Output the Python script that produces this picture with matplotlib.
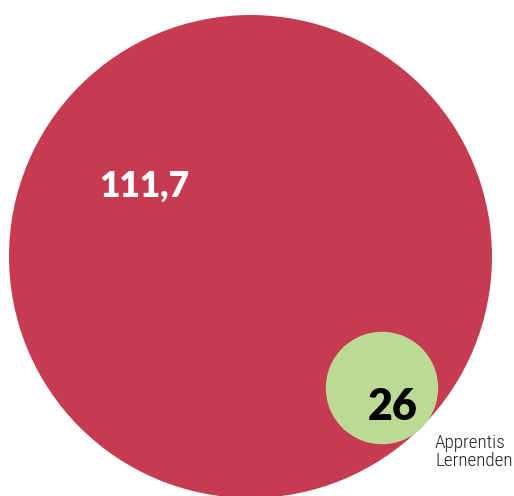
import matplotlib.pyplot as plt
from matplotlib.patches import Circle

# values shown in the bubbles
labels = ["111,7", "26"]
values = [111.7, 26]
colors = ["#C63B50", "#BBDA93"]
text_colors = ["white", "black"]
caption = "Apprentis\nLernenden"

# layout in pixel coordinates
centers = [(250.5, 256.5), (382, 388)]
label_pos = [(144, 186), (393, 407)]
label_size = [25.5, 31]
px_per_unit = 2.162

fig = plt.figure(figsize=(5.14, 4.96), dpi=100)
ax = fig.add_axes([0, 0, 1, 1])
ax.set_xlim(0, 514)
ax.set_ylim(496, 0)
ax.set_aspect("equal")
ax.axis("off")

for i in range(len(values)):
    ax.add_patch(Circle(centers[i], values[i]*px_per_unit, color=colors[i], lw=0))
    ax.text(label_pos[i][0], label_pos[i][1], labels[i], color=text_colors[i],
            fontsize=label_size[i], fontweight="heavy", family=["Lato", "DejaVu Sans"],
            ha="center", va="center")

ax.text(435, 452, caption, fontsize=13.8, color="#222222", ha="left", va="center",
        family=["Roboto Condensed", "Roboto", "DejaVu Sans"], fontweight="light",
        linespacing=1.0)

fig.savefig("out.png", dpi=100)
